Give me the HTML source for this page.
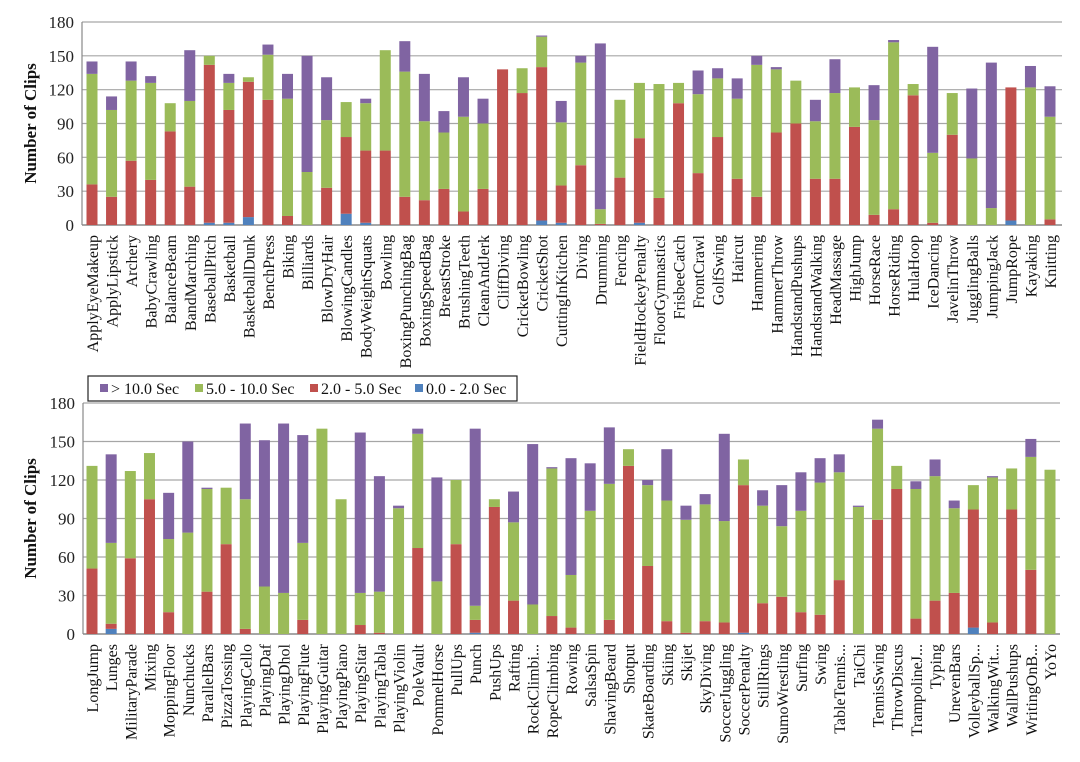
<!DOCTYPE html>
<html><head><meta charset="utf-8"><style>
html,body{margin:0;padding:0;background:#fff;}
svg{display:block;font-family:"Liberation Serif",serif;}
</style></head><body>
<svg id="chart" width="1080" height="762" viewBox="0 0 1080 762" xmlns="http://www.w3.org/2000/svg"></svg>
<script>
const topCategories = ["ApplyEyeMakeup","ApplyLipstick","Archery","BabyCrawling","BalanceBeam","BandMarching","BaseballPitch","Basketball","BasketballDunk","BenchPress","Biking","Billiards","BlowDryHair","BlowingCandles","BodyWeightSquats","Bowling","BoxingPunchingBag","BoxingSpeedBag","BreastStroke","BrushingTeeth","CleanAndJerk","CliffDiving","CricketBowling","CricketShot","CuttingInKitchen","Diving","Drumming","Fencing","FieldHockeyPenalty","FloorGymnastics","FrisbeeCatch","FrontCrawl","GolfSwing","Haircut","Hammering","HammerThrow","HandstandPushups","HandstandWalking","HeadMassage","HighJump","HorseRace","HorseRiding","HulaHoop","IceDancing","JavelinThrow","JugglingBalls","JumpingJack","JumpRope","Kayaking","Knitting"];
const topShort = [0,0,0,0,0,0,2,2,7,0,0,0,0,10,2,0,0,0,0,0,0,0,0,4,2,0,0,0,2,0,0,0,0,0,0,0,0,0,0,0,0,0,0,0,0,0,0,4,0,0];
const topMid = [36,25,57,40,83,34,140,100,120,111,8,0,33,68,64,66,25,22,32,12,32,138,117,136,33,53,1,42,75,24,108,46,78,41,25,82,90,41,41,87,9,14,115,2,80,0,0,118,0,5];
const topLong = [98,77,71,86,25,76,8,24,4,40,104,47,60,31,42,89,111,70,50,84,58,0,22,27,56,91,13,69,49,101,18,70,52,71,117,56,38,51,76,35,84,148,10,62,37,59,15,0,122,91];
const topVeryLong = [11,12,17,6,0,45,0,8,0,9,22,103,38,0,4,0,27,42,19,35,22,0,0,1,19,6,147,0,0,0,0,21,9,18,8,2,0,19,30,0,31,2,0,94,0,62,129,0,19,27];

const botCategories = ["LongJump","Lunges","MilitaryParade","Mixing","MoppingFloor","Nunchucks","ParallelBars","PizzaTossing","PlayingCello","PlayingDaf","PlayingDhol","PlayingFlute","PlayingGuitar","PlayingPiano","PlayingSitar","PlayingTabla","PlayingViolin","PoleVault","PommelHorse","PullUps","Punch","PushUps","Rafting","RockClimbi...","RopeClimbing","Rowing","SalsaSpin","ShavingBeard","Shotput","SkateBoarding","Skiing","Skijet","SkyDiving","SoccerJuggling","SoccerPenalty","StillRings","SumoWrestling","Surfing","Swing","TableTennis...","TaiChi","TennisSwing","ThrowDiscus","TrampolineJ...","Typing","UnevenBars","VolleyballSp...","WalkingWit...","WallPushups","WritingOnB...","YoYo"];
const botShort = [0,4,0,0,0,0,0,0,0,0,0,0,0,0,0,0,0,0,0,0,1,0,0,0,0,0,0,0,0,0,0,0,0,0,1,0,0,0,0,0,0,0,0,0,0,0,5,0,0,0,0];
const botMid = [51,4,59,105,17,0,33,70,4,0,0,11,0,0,7,1,0,67,0,70,10,99,26,0,14,5,0,11,131,53,10,1,10,9,115,24,29,17,15,42,0,89,113,12,26,32,92,9,97,50,0];
const botLong = [80,63,68,36,57,79,80,44,101,37,32,60,160,105,25,32,98,89,41,50,11,6,61,23,115,41,96,106,13,63,94,88,91,79,20,76,55,79,103,84,99,71,18,101,97,66,19,113,32,88,128];
const botVeryLong = [0,69,0,0,36,71,1,0,59,114,132,84,0,0,125,90,2,4,81,0,138,0,24,125,1,91,37,44,0,4,40,11,8,68,0,12,32,30,19,14,1,7,0,6,13,6,0,1,0,14,0];

const yTicks = [0,30,60,90,120,150,180];
const legendLabels = ["> 10.0 Sec","5.0 - 10.0 Sec","2.0 - 5.0 Sec","0.0 - 2.0 Sec"];
const colors = {vl:"#8064a2", l:"#9bbb59", m:"#c0504d", s:"#4f81bd"};

const NS = "http://www.w3.org/2000/svg";
const svg = document.getElementById("chart");
function mk(tag, attrs, parent){
  const e = document.createElementNS(NS, tag);
  for (const k in attrs) e.setAttribute(k, attrs[k]);
  (parent||svg).appendChild(e);
  return e;
}

function drawPanel(cfg){
  const g = mk("g", {});
  
  
  const y = v => cfg.y0 - (v/180)*(cfg.y0 - cfg.y180);
  const x = i => cfg.x0 + i*(cfg.xN - cfg.x0)/(cfg.cats.length - 1);
  yTicks.forEach(t => {
    const ln = mk("line", {x1:cfg.left, x2:cfg.right, y1:y(t), y2:y(t), stroke: t===0 ? "#888" : "#a6a6a6", "stroke-width": t===0 ? 1.5 : 1.2}, g);
    
    
    const tx = mk("text", {x: cfg.left - 8, y: y(t) + 6, "text-anchor":"end", "font-size":"17", fill:"#222"}, g);
    tx.textContent = t;
    
    
  });
  const axis = mk("line", {x1:cfg.left, x2:cfg.left, y1:cfg.y180, y2:cfg.y0, stroke:"#888", "stroke-width":1.2}, g);
  
  
  const ttl = mk("text", {transform:`translate(36 ${(cfg.y0+cfg.y180)/2}) rotate(-90)`, "text-anchor":"middle", "font-size":"17", "font-weight":"bold", fill:"#111"}, g);
  ttl.textContent = "Number of Clips";
  
  
  const bw = 11;
  cfg.cats.forEach((c, i) => {
    const segs = [[cfg.s[i], colors.s],[cfg.m[i], colors.m],[cfg.l[i], colors.l],[cfg.vl[i], colors.vl]];
    let cum = 0;
    const cx = x(i);
    segs.forEach(([v, col]) => {
      if (v <= 0) return;
      const r = mk("rect", {x: cx - bw/2, y: y(cum+v), width: bw, height: y(cum) - y(cum+v), fill: col}, g);
      
      
      cum += v;
    });
    const lb = mk("text", {transform:`translate(${cx+6} ${cfg.y0+10}) rotate(-90)`, "text-anchor":"end", "font-size":"16", fill:"#111"}, g);
    lb.textContent = c;
    
    
  });
}

drawPanel({name:"top-chart", cats:topCategories, s:topShort, m:topMid, l:topLong, vl:topVeryLong,
  left:82, right:1062, x0:92, xN:1050, y0:225, y180:22});
drawPanel({name:"bottom-chart", cats:botCategories, s:botShort, m:botMid, l:botLong, vl:botVeryLong,
  left:83, right:1060, x0:92, xN:1050, y0:634, y180:403});

const lg = mk("g", {});


const lbox = mk("rect", {x:88, y:376, width:429, height:25, fill:"#fff", stroke:"#222", "stroke-width":1.2}, lg);


const legCols = [colors.vl, colors.l, colors.m, colors.s];
const legX = [100, 195, 310, 415];
legendLabels.forEach((t, i) => {
  const sq = mk("rect", {x:legX[i], y:384, width:8, height:8, fill:legCols[i]}, lg);
  
  
  const tx = mk("text", {x:legX[i]+11, y:394, "font-size":"16", fill:"#111"}, lg);
  tx.textContent = t;
  
  
});
</script>
</body></html>
